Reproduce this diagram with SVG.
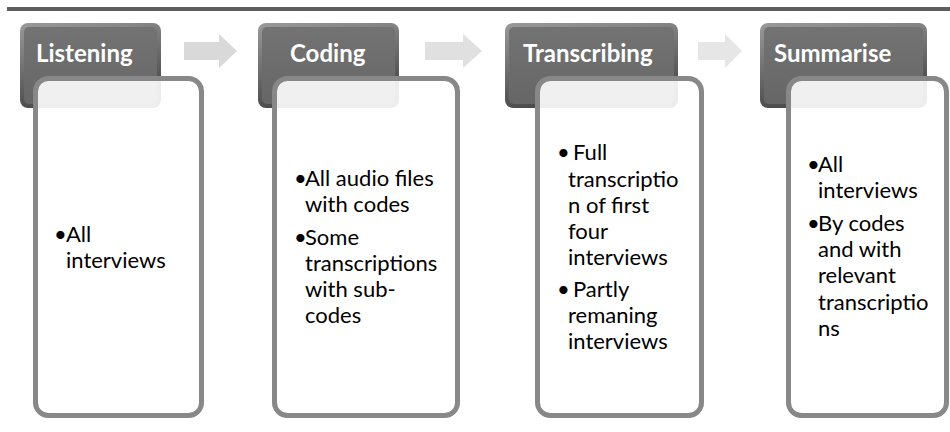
<svg xmlns="http://www.w3.org/2000/svg" width="950" height="432" viewBox="0 0 950 432">
<defs>
<linearGradient id="hdrOuter" x1="0" y1="0" x2="0.3" y2="1">
<stop offset="0" stop-color="#9a9a9a"/>
<stop offset="1" stop-color="#474747"/>
</linearGradient>
<linearGradient id="hdrInner" x1="0" y1="0" x2="0" y2="1">
<stop offset="0" stop-color="#737373"/>
<stop offset="1" stop-color="#666666"/>
</linearGradient>
<style>
.hdr{fill:url(#hdrOuter);}
.hdri{fill:url(#hdrInner);}
.box{fill:#ffffff;fill-opacity:0.9;stroke:#888888;stroke-width:5;}
.ht{font-family:Lato,"Open Sans",sans-serif;font-weight:bold;font-size:24px;fill:#ffffff;}
.bt{font-family:Lato,"Open Sans",sans-serif;font-size:22px;fill:#000000;}
</style>
</defs>
<rect x="7" y="7" width="943" height="4" fill="#5f5f5f"/>
<g id="connectors">
<path d="M184,42 H219 V34 L237,51 L219,68 V60 H184 Z" fill="#d9d9d9"/>
<path d="M425,42 H463 V34 L482,51 L463,68 V60 H425 Z" fill="#e0e0e0"/>
<path d="M698,42 H725 V34 L742,51 L725,68 V60 H698 Z" fill="#e6e6e6"/>
</g>
<g id="listening">
<rect class="hdr" x="20" y="23" width="141" height="85" rx="8"/>
<rect class="hdri" x="24" y="27" width="133" height="77" rx="5"/>
<text class="ht" x="36" y="62">Listening</text>
<rect class="box" x="35.5" y="78.5" width="166" height="337" rx="13"/>
<text class="bt" x="54" y="242">•</text>
<text class="bt" x="66" y="242">All</text>
<text class="bt" x="66" y="268">interviews</text>
</g>
<g id="coding">
<rect class="hdr" x="258" y="23" width="141" height="85" rx="8"/>
<rect class="hdri" x="262" y="27" width="133" height="77" rx="5"/>
<text class="ht" x="290" y="62">Coding</text>
<rect class="box" x="274.5" y="78.5" width="183" height="337" rx="13"/>
<text class="bt" x="294" y="186">•</text>
<text class="bt" x="305" y="186">All audio files</text>
<text class="bt" x="305" y="212">with codes</text>
<text class="bt" x="294" y="245">•</text>
<text class="bt" x="305" y="245">Some</text>
<text class="bt" x="305" y="271">transcriptions</text>
<text class="bt" x="305" y="297">with sub-</text>
<text class="bt" x="305" y="323">codes</text>
</g>
<g id="transcribing">
<rect class="hdr" x="505" y="23" width="173" height="85" rx="8"/>
<rect class="hdri" x="509" y="27" width="165" height="77" rx="5"/>
<text class="ht" x="523" y="62">Transcribing</text>
<rect class="box" x="537.5" y="78.5" width="164" height="337" rx="13"/>
<text class="bt" x="557" y="160">•</text>
<text class="bt" x="573" y="160">Full</text>
<text class="bt" x="568" y="187">transcriptio</text>
<text class="bt" x="568" y="213">n of first</text>
<text class="bt" x="568" y="239">four</text>
<text class="bt" x="568" y="265">interviews</text>
<text class="bt" x="557" y="297">•</text>
<text class="bt" x="573" y="297">Partly</text>
<text class="bt" x="568" y="323">remaning</text>
<text class="bt" x="568" y="349">interviews</text>
</g>
<g id="summarise">
<rect class="hdr" x="760" y="23" width="167" height="85" rx="8"/>
<rect class="hdri" x="764" y="27" width="159" height="77" rx="5"/>
<text class="ht" x="774" y="62">Summarise</text>
<rect class="box" x="788.5" y="78.5" width="158" height="337" rx="13"/>
<text class="bt" x="807" y="172">•</text>
<text class="bt" x="818" y="172">All</text>
<text class="bt" x="818" y="198">interviews</text>
<text class="bt" x="807" y="231">•</text>
<text class="bt" x="818" y="231">By codes</text>
<text class="bt" x="818" y="257">and with</text>
<text class="bt" x="818" y="283">relevant</text>
<text class="bt" x="818" y="310">transcriptio</text>
<text class="bt" x="818" y="336">ns</text>
</g>
</svg>
